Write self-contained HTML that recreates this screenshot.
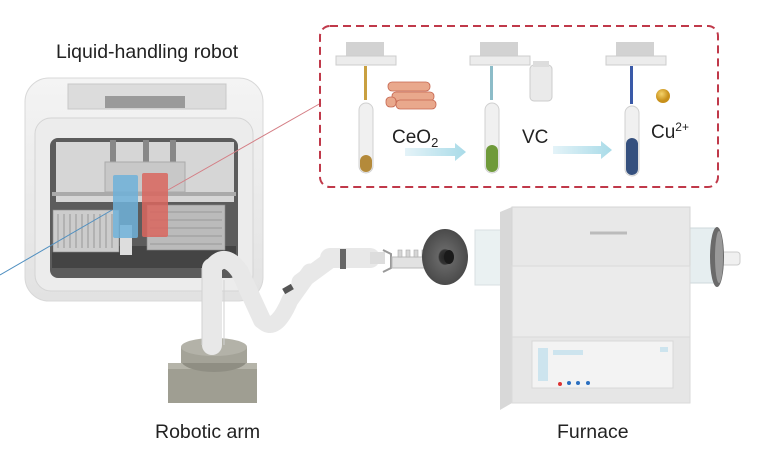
<!DOCTYPE html>
<html><head><meta charset="utf-8"><style>
html,body{margin:0;padding:0;background:#fff;}
svg{display:block;font-family:"Liberation Sans",Arial,sans-serif;}
</style></head><body>
<svg width="763" height="473" viewBox="0 0 763 473" xmlns="http://www.w3.org/2000/svg">
<defs>
<linearGradient id="body" x1="0" y1="0" x2="0" y2="1"><stop offset="0" stop-color="#f4f4f4"/><stop offset="1" stop-color="#e2e2e2"/></linearGradient>
<linearGradient id="arr" x1="0" y1="0" x2="1" y2="0"><stop offset="0" stop-color="#e4f3f8"/><stop offset="1" stop-color="#a9dbe8"/></linearGradient>
<radialGradient id="disk"><stop offset="0" stop-color="#222"/><stop offset="0.25" stop-color="#333"/><stop offset="0.3" stop-color="#666"/><stop offset="1" stop-color="#4a4a4a"/></radialGradient>
<radialGradient id="ball" cx="0.4" cy="0.35"><stop offset="0" stop-color="#f5d36a"/><stop offset="1" stop-color="#c8901a"/></radialGradient>
</defs>

<text x="56" y="58" font-size="19.5" fill="#222">Liquid-handling robot</text>

<!-- robot -->
<rect x="25" y="78" width="238" height="223" rx="24" fill="url(#body)" stroke="#d8d8d8"/>
<rect x="35" y="118" width="218" height="173" rx="16" fill="#ececec" stroke="#d4d4d4"/>
<rect x="68" y="84" width="158" height="25" fill="#dcdcdc" stroke="#c8c8c8"/>
<rect x="105" y="96" width="80" height="12" fill="#9a9a9a"/>
<rect x="50" y="138" width="188" height="140" rx="8" fill="#5c5c5c"/>
<rect x="56" y="142" width="178" height="60" fill="#d6d6d6"/>
<rect x="110" y="140" width="6" height="50" fill="#888"/><rect x="143" y="140" width="6" height="50" fill="#888"/><rect x="170" y="140" width="6" height="50" fill="#888"/>
<rect x="105" y="162" width="80" height="30" fill="#c8c8c8" stroke="#aaa"/>
<rect x="52" y="192" width="184" height="4" fill="#aaa"/>
<rect x="52" y="246" width="184" height="22" fill="#444"/>
<g fill="#ccc" stroke="#888" stroke-width="0.6">
<rect x="53" y="210" width="66" height="42"/><rect x="147" y="205" width="78" height="45" fill="#bbb"/>
</g>
<g stroke="#999" stroke-width="1">
<path d="M58 214v34M64 214v34M70 214v34M76 214v34M82 214v34M88 214v34M94 214v34M100 214v34M106 214v34M112 214v34"/>
<path d="M150 212h72M150 220h72M150 228h72M150 236h72M150 244h72"/>
</g>
<rect x="120" y="225" width="12" height="30" fill="#ddd"/>
<rect x="113" y="175" width="25" height="63" rx="2" fill="#6fb1d9" opacity="0.85"/>
<rect x="142" y="173" width="26" height="64" rx="2" fill="#d9665e" opacity="0.85"/>
<line x1="0" y1="275" x2="112" y2="210" stroke="#4f8fc0" stroke-width="1"/>
<line x1="168" y1="190" x2="321" y2="103" stroke="#d47d84" stroke-width="1"/>

<!-- dashed box -->
<rect x="320" y="26" width="398" height="161" rx="10" fill="none" stroke="#c0394a" stroke-width="2" stroke-dasharray="8 5"/>
<g>
<g transform="translate(336,42)"><rect x="10" y="0" width="38" height="14" fill="#d2d2d2"/><rect x="0" y="14" width="60" height="9" fill="#ececec" stroke="#ccc"/></g>
<g transform="translate(470,42)"><rect x="10" y="0" width="38" height="14" fill="#d2d2d2"/><rect x="0" y="14" width="60" height="9" fill="#ececec" stroke="#ccc"/></g>
<g transform="translate(606,42)"><rect x="10" y="0" width="38" height="14" fill="#d2d2d2"/><rect x="0" y="14" width="60" height="9" fill="#ececec" stroke="#ccc"/></g>
</g>
<rect x="364" y="66" width="3" height="34" fill="#c9a040"/>
<rect x="490" y="66" width="3" height="34" fill="#8cbcc8"/>
<rect x="630" y="66" width="3" height="38" fill="#3a5aa8"/>
<g fill="#f0f0f0" stroke="#d0d0d0">
<rect x="359" y="103" width="14" height="70" rx="7"/><rect x="485" y="103" width="14" height="70" rx="7"/><rect x="625" y="106" width="14" height="70" rx="7"/>
</g>
<rect x="360" y="155" width="12" height="17" rx="6" fill="#b48a3a"/>
<rect x="486" y="145" width="12" height="27" rx="6" fill="#6f9a3a"/>
<rect x="626" y="138" width="12" height="37" rx="6" fill="#35507e"/>
<g fill="#e9a88c" stroke="#c5654f" stroke-width="0.8">
<rect x="388" y="82" width="42" height="9" rx="4"/><rect x="392" y="92" width="42" height="9" rx="4"/><rect x="396" y="100" width="40" height="9" rx="4"/><rect x="386" y="97" width="10" height="10" rx="4"/>
</g>
<text x="392" y="143" font-size="19" fill="#222">CeO<tspan font-size="13" dy="4">2</tspan></text>
<rect x="530" y="65" width="22" height="36" rx="4" fill="#eaeaea" stroke="#ccc"/>
<rect x="533" y="61" width="16" height="6" fill="#ddd"/>
<text x="522" y="143" font-size="19" fill="#222">VC</text>
<circle cx="663" cy="96" r="7" fill="url(#ball)"/>
<text x="651" y="138" font-size="19" fill="#222">Cu<tspan font-size="12" dy="-7">2+</tspan></text>
<path d="M405 148h50v-5l11 9-11 9v-5h-50z" fill="url(#arr)"/>
<path d="M553 146h48v-5l11 9-11 9v-5h-48z" fill="url(#arr)"/>

<!-- arm -->
<rect x="168" y="363" width="89" height="40" fill="#9f9e92"/>
<rect x="168" y="363" width="89" height="6" fill="#b5b4a9"/>
<ellipse cx="214" cy="360" rx="33" ry="12" fill="#8f8e83"/>
<rect x="181" y="347" width="66" height="16" fill="#a4a398"/>
<ellipse cx="214" cy="347" rx="33" ry="9" fill="#b3b2a8"/>
<g stroke="#e8e8e8" stroke-linecap="round" fill="none">
<path d="M212 345V268" stroke-width="20"/>
<path d="M212 268Q225 250 240 272L262 320" stroke-width="18"/>
<path d="M262 320Q275 335 290 300L310 272" stroke-width="17"/>
<path d="M300 282L330 260" stroke-width="17"/>
<path d="M330 258h40" stroke-width="20"/>
</g>
<g stroke="#d2d2d2" stroke-width="1" fill="none"><path d="M202 345V268M224 345V280"/></g>
<rect x="340" y="249" width="6" height="20" fill="#666"/>
<rect x="283" y="286" width="10" height="6" fill="#555" transform="rotate(-30 288 289)"/>
<rect x="370" y="252" width="15" height="12" fill="#ddd"/>
<path d="M383 250l8 4v14l-8 4" fill="none" stroke="#999" stroke-width="2"/>
<rect x="392" y="257" width="63" height="11" fill="#e2e2e2" stroke="#bbb"/>
<g fill="#d6d6d6" stroke="#aaa" stroke-width="0.6"><rect x="398" y="250" width="4" height="7"/><rect x="406" y="250" width="4" height="7"/><rect x="414" y="250" width="4" height="7"/><rect x="422" y="250" width="4" height="7"/></g>
<ellipse cx="445" cy="257" rx="23" ry="28" fill="url(#disk)"/>
<ellipse cx="449" cy="257" rx="5" ry="7" fill="#1a1a1a"/>

<!-- furnace -->
<rect x="475" y="230" width="42" height="55" fill="#e6eef0" opacity="0.8" stroke="#cfd8db"/>
<rect x="688" y="228" width="30" height="55" fill="#e6eef0" stroke="#cfd8db"/>
<rect x="718" y="252" width="22" height="13" rx="3" fill="#f0f0f0" stroke="#ccc"/>
<ellipse cx="717" cy="257" rx="7" ry="30" fill="#6a6a6a"/>
<ellipse cx="719" cy="257" rx="4" ry="26" fill="#999"/>
<polygon points="500,212 512,207 690,207 690,403 512,403 500,410" fill="#d8d8d8"/>
<rect x="512" y="207" width="178" height="196" fill="#ececec"/>
<rect x="512" y="207" width="178" height="59" fill="#e8e8e8" stroke="#d5d5d5"/>
<rect x="512" y="266" width="178" height="71" fill="#ebebeb" stroke="#dadada"/>
<rect x="512" y="337" width="178" height="66" fill="#e6e6e6" stroke="#dadada"/>
<path d="M590 233h37" stroke="#bbb" stroke-width="3"/>
<rect x="532" y="341" width="141" height="47" fill="#f3f3f3" stroke="#d8d8d8"/>
<rect x="538" y="348" width="10" height="33" fill="#cde4ee"/>
<rect x="553" y="350" width="30" height="5" fill="#cde4ee"/>
<rect x="660" y="347" width="8" height="5" fill="#cde4ee"/>
<circle cx="560" cy="384" r="2" fill="#d33"/><circle cx="569" cy="383" r="2" fill="#2a6fc0"/><circle cx="578" cy="383" r="2" fill="#2a6fc0"/><circle cx="588" cy="383" r="2" fill="#2a6fc0"/>

<text x="155" y="438" font-size="19.5" fill="#222">Robotic arm</text>
<text x="557" y="438" font-size="19.5" fill="#222">Furnace</text>
</svg>
</body></html>
